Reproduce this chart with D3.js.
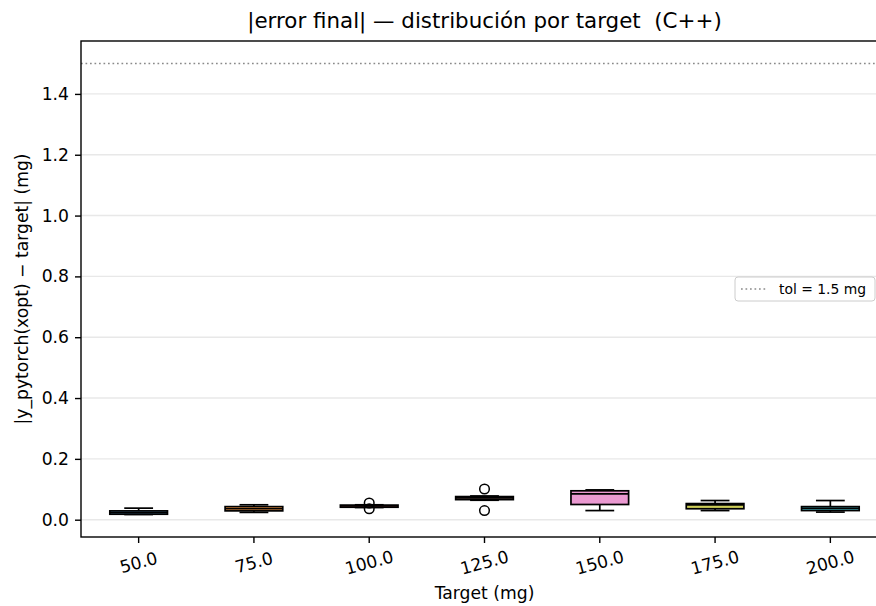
<!DOCTYPE html>
<html>
<head>
<meta charset="utf-8">
<script src="https://cdn.jsdelivr.net/npm/d3@7"></script>
<style>
  body { margin: 0; background: #fff; }
  text { font-family: "DejaVu Sans", sans-serif; fill: #000; white-space: pre; }
</style>
</head>
<body>
<div id="chart"></div>
<script>
// data
var targets = ["50.0", "75.0", "100.0", "125.0", "150.0", "175.0", "200.0"];
var whisLo = [0.017, 0.024, 0.040, 0.064, 0.030, 0.030, 0.025];
var q1     = [0.018, 0.029, 0.041, 0.066, 0.050, 0.036, 0.030];
var median = [0.023, 0.036, 0.045, 0.072, 0.085, 0.049, 0.037];
var q3     = [0.029, 0.043, 0.048, 0.076, 0.095, 0.053, 0.043];
var whisHi = [0.038, 0.049, 0.049, 0.078, 0.098, 0.063, 0.063];
var fliers = [[], [], [0.055, 0.036], [0.101, 0.030], [], [], []];
var tolerance = 1.5;
var yTicks = [0, 0.2, 0.4, 0.6, 0.8, 1.0, 1.2, 1.4];

// tab10 sampled at 7 evenly spaced points
var boxColors = ["#1f77b4", "#ff7f0e", "#d62728", "#8c564b", "#e377c2", "#bcbd22", "#17becf"];

var svgWidth = 876;
var svgHeight = 606;

var margin = { top: 41, left: 81, bottom: 69, right: -12 };
var width = svgWidth - margin.left - margin.right;
var height = svgHeight - margin.top - margin.bottom;

var lw = 1.7;

var svg = d3.select("#chart")
  .append("svg")
  .attr("width", svgWidth)
  .attr("height", svgHeight);

var chartGroup = svg.append("g")
  .attr("transform", `translate(${margin.left}, ${margin.top})`);

var xScale = d3.scaleBand()
  .domain(targets)
  .range([0, width])
  .paddingInner(0)
  .paddingOuter(0);

var yScale = d3.scaleLinear()
  .domain([-0.0569, 1.574])
  .range([height, 0]);

// grid
chartGroup.append("g")
  .selectAll("line")
  .data(yTicks)
  .enter()
  .append("line")
  .attr("x1", 0)
  .attr("x2", width)
  .attr("y1", d => yScale(d))
  .attr("y2", d => yScale(d))
  .attr("stroke", "#e8e8e8")
  .attr("stroke-width", 1.4);

// tolerance line
chartGroup.append("line")
  .attr("x1", 0)
  .attr("x2", width)
  .attr("y1", yScale(tolerance))
  .attr("y2", yScale(tolerance))
  .attr("stroke", "#8a8a8a")
  .attr("stroke-width", 1.7)
  .attr("stroke-dasharray", "1.7,2.8");

// boxes
var boxW = xScale.bandwidth() * 0.5;
var capW = boxW * 0.5;

targets.forEach(function(t, i) {
  var cx = xScale(t) + xScale.bandwidth() / 2;
  var g = chartGroup.append("g");

  // whiskers
  g.append("line")
    .attr("x1", cx).attr("x2", cx)
    .attr("y1", yScale(q3[i])).attr("y2", yScale(whisHi[i]))
    .attr("stroke", "#000").attr("stroke-width", lw);
  g.append("line")
    .attr("x1", cx).attr("x2", cx)
    .attr("y1", yScale(q1[i])).attr("y2", yScale(whisLo[i]))
    .attr("stroke", "#000").attr("stroke-width", lw);

  // caps
  [whisHi[i], whisLo[i]].forEach(function(v) {
    g.append("line")
      .attr("x1", cx - capW / 2).attr("x2", cx + capW / 2)
      .attr("y1", yScale(v)).attr("y2", yScale(v))
      .attr("stroke", "#000").attr("stroke-width", lw);
  });

  // box
  g.append("rect")
    .attr("x", cx - boxW / 2)
    .attr("y", yScale(q3[i]))
    .attr("width", boxW)
    .attr("height", yScale(q1[i]) - yScale(q3[i]))
    .attr("fill", boxColors[i])
    .attr("fill-opacity", 0.75)
    .attr("stroke", "#000")
    .attr("stroke-width", lw);

  // median
  g.append("line")
    .attr("x1", cx - boxW / 2).attr("x2", cx + boxW / 2)
    .attr("y1", yScale(median[i])).attr("y2", yScale(median[i]))
    .attr("stroke", "#000").attr("stroke-width", lw);

  // outliers
  g.selectAll("circle")
    .data(fliers[i])
    .enter()
    .append("circle")
    .attr("cx", cx)
    .attr("cy", d => yScale(d))
    .attr("r", 4.8)
    .attr("fill", "none")
    .attr("stroke", "#000")
    .attr("stroke-width", 1.5);
});

// axes
var leftAxis = d3.axisLeft(yScale)
  .tickValues(yTicks)
  .tickFormat(d3.format(".1f"))
  .tickSize(6)
  .tickPadding(6);

var yAxis = chartGroup.append("g").call(leftAxis);
yAxis.select(".domain").remove();
yAxis.selectAll("text").style("font-size", "17.2px").style("font-family", "DejaVu Sans");
yAxis.selectAll("line").attr("stroke-width", 1.4);

var bottomAxis = d3.axisBottom(xScale)
  .tickSize(6)
  .tickPadding(4);

var xAxis = chartGroup.append("g")
  .attr("transform", `translate(0, ${height})`)
  .call(bottomAxis);
xAxis.select(".domain").remove();
xAxis.selectAll("line").attr("stroke-width", 1.4);
xAxis.selectAll("text")
  .style("font-size", "17.2px")
  .style("font-family", "DejaVu Sans")
  .attr("y", 0)
  .attr("dy", null)
  .attr("dominant-baseline", "central")
  .attr("text-anchor", "middle")
  .attr("transform", "translate(0, 25.5) rotate(-15)");

// frame
chartGroup.append("rect")
  .attr("x", 0)
  .attr("y", 0)
  .attr("width", width)
  .attr("height", height)
  .attr("fill", "none")
  .attr("stroke", "#000")
  .attr("stroke-width", 1.4);

// legend
var legend = chartGroup.append("g")
  .attr("transform", `translate(${735 - margin.left}, ${277 - margin.top})`);
legend.append("rect")
  .attr("width", 140)
  .attr("height", 24)
  .attr("rx", 3)
  .attr("fill", "#fff")
  .attr("fill-opacity", 0.8)
  .attr("stroke", "#cccccc");
legend.append("line")
  .attr("x1", 6).attr("x2", 32)
  .attr("y1", 12).attr("y2", 12)
  .attr("stroke", "#8a8a8a")
  .attr("stroke-width", 1.7)
  .attr("stroke-dasharray", "1.7,2.8");
legend.append("text")
  .attr("x", 44)
  .attr("y", 17)
  .style("font-size", "13.9px")
  .text("tol = 1.5 mg");

// title and labels
svg.append("text")
  .attr("x", margin.left + width / 2)
  .attr("y", 28)
  .attr("text-anchor", "middle")
  .style("font-size", "21.4px")
  .text("|error final| — distribución por target  (C++)");

svg.append("text")
  .attr("x", margin.left + width / 2)
  .attr("y", 599)
  .attr("text-anchor", "middle")
  .style("font-size", "17.2px")
  .text("Target (mg)");

svg.append("text")
  .attr("transform", `translate(28, ${margin.top + height / 2}) rotate(-90)`)
  .attr("text-anchor", "middle")
  .style("font-size", "17.2px")
  .text("|y_pytorch(xopt) − target| (mg)");
</script>
</body>
</html>
